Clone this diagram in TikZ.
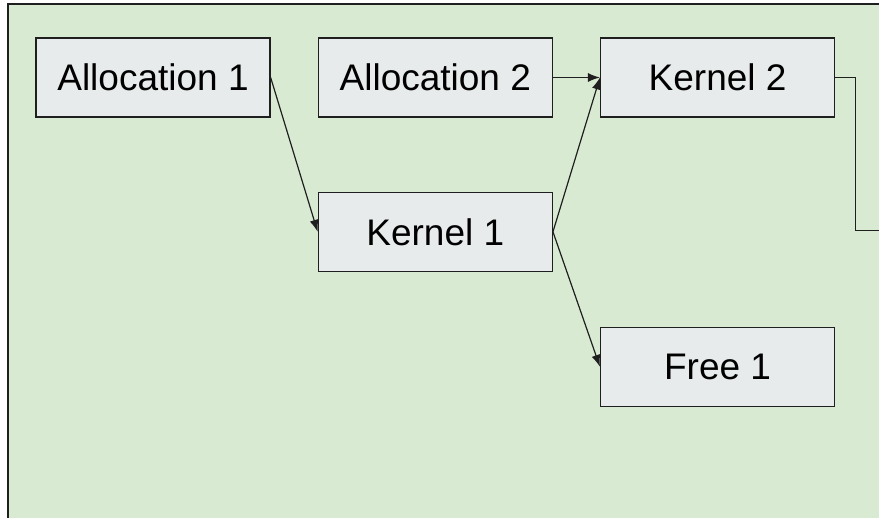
\documentclass[tikz,border=0pt]{standalone}
\usepackage{fontspec}
\setmainfont{Liberation Sans}
\usetikzlibrary{arrows.meta, positioning}
\definecolor{bggreen}{HTML}{D9EAD3}
\definecolor{boxgrey}{HTML}{E8EBEC}
\definecolor{edgegrey}{HTML}{1F1F1F}

\begin{document}
\begin{tikzpicture}[x=1pt, y=-1pt,
    task/.style={draw=edgegrey, line width=1.3pt, fill=boxgrey,
      minimum width=234pt, minimum height=79pt, inner sep=0pt,
      font=\fontsize{37}{40}\selectfont},
    dep/.style={draw=edgegrey, line width=1.2pt, -{Latex[length=12pt,width=9pt]}}]
  % page and green panel
  \useasboundingbox (0,0) rectangle (879,518);
  \clip (0,0) rectangle (879,518);
  \draw[draw=edgegrey, fill=bggreen, line width=1.5pt] (8,4) rectangle (900,540);
  % tasks
  \node[task] (alloc1) at (153,77.5) {Allocation 1};
  \node[task, right=47pt of alloc1] (alloc2) {Allocation 2};
  \node[task, right=47pt of alloc2] (kernel2) {Kernel 2};
  \node[task, below=74pt of alloc2] (kernel1) {Kernel 1};
  \node[task, below=209pt of kernel2] (free1) {Free 1};
  % dependencies
  \draw[dep] (alloc1.east) -- (kernel1.west);
  \draw[dep] (alloc2.east) -- (kernel2.west);
  \draw[dep] (kernel1.east) -- (kernel2.west);
  \draw[dep] (kernel1.east) -- (free1.west);
  % kernel 2 leads on past the edge
  \coordinate (onward) at (890,230.5);
  \draw[draw=edgegrey, line width=1.2pt] (kernel2.east) -- ++(20,0) |- (onward);
\end{tikzpicture}
\end{document}
